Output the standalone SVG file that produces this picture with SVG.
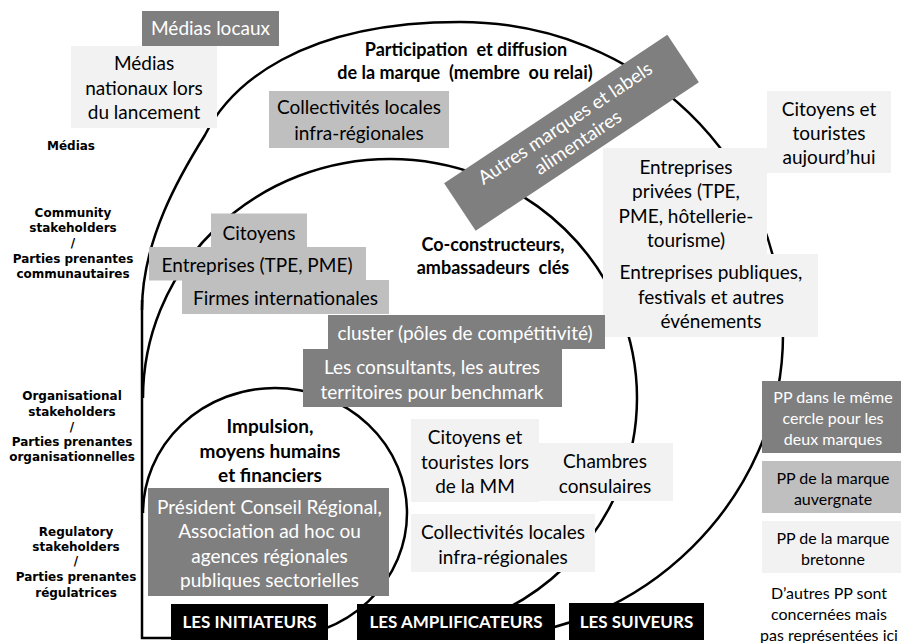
<svg xmlns="http://www.w3.org/2000/svg" width="902" height="643" viewBox="0 0 902 643">
<style>
.t{font-family:Lato,"Liberation Sans",sans-serif;font-size:19px;text-anchor:middle;fill:#000}
.w{fill:#fff}
.s16{font-size:16px}
.b{font-weight:bold}
.h{font-size:18px;white-space:pre}
.lbl{font-family:"DejaVu Sans",sans-serif;font-weight:bold;font-size:12px;text-anchor:middle;fill:#000}
.dk{fill:#7f7f7f}
.md{fill:#bfbfbf}
.lt{fill:#f2f2f2}
.bk{fill:#000}
.ln{fill:none;stroke:#000;stroke-width:2.5}
</style>
<rect width="902" height="643" fill="#fff"/>
<g id="circles">
<path class="ln" d="M142,300 L142,638 L200,638"/>
<path class="ln" d="M142,310 C142,240 180,175 205,135 C230,85 300,22 460,22 C640,22 783,160 783,335 C783,500 640,637 480,637"/>
<path class="ln" d="M143,398 A247,239 0 1 1 390,637"/>
<path class="ln" d="M143,513 A132,125 0 1 1 275,638"/>
</g>
<g id="side-labels">
<text class="lbl" x="71" y="150">Médias</text>
<text class="lbl" x="73" y="217">Community</text>
<text class="lbl" x="73" y="232">stakeholders</text>
<text class="lbl" x="73" y="247">/</text>
<text class="lbl" x="73" y="263">Parties prenantes</text>
<text class="lbl" x="73" y="278">communautaires</text>
<text class="lbl" x="72" y="400">Organisational</text>
<text class="lbl" x="72" y="416">stakeholders</text>
<text class="lbl" x="72" y="431">/</text>
<text class="lbl" x="72" y="446">Parties prenantes</text>
<text class="lbl" x="72" y="461">organisationnelles</text>
<text class="lbl" x="76" y="536">Regulatory</text>
<text class="lbl" x="76" y="551">stakeholders</text>
<text class="lbl" x="76" y="565">/</text>
<text class="lbl" x="76" y="581">Parties prenantes</text>
<text class="lbl" x="76" y="597">régulatrices</text>
</g>
<g id="titles">
<text class="t b h" x="466" y="56">Participation  et diffusion</text>
<text class="t b h" x="465" y="79">de la marque  (membre  ou relai)</text>
<text class="t b h" x="493" y="251">Co-constructeurs,</text>
<text class="t b h" x="493" y="274">ambassadeurs  clés</text>
<text class="t b" x="270" y="433">Impulsion,</text>
<text class="t b" x="270" y="458">moyens humains</text>
<text class="t b" x="270" y="482">et financiers</text>
</g>
<g id="medias-locaux">
<rect class="dk" x="142" y="11" width="137" height="35"/>
<text class="t w" x="210.5" y="35">Médias locaux</text>
</g>
<g id="medias-nationaux">
<rect class="lt" x="71" y="46" width="146" height="82"/>
<text class="t" x="144" y="69.5">Médias</text>
<text class="t" x="144" y="94.5">nationaux lors</text>
<text class="t" x="144" y="118.5">du lancement</text>
</g>
<g id="collectivites-haut">
<rect class="md" x="269" y="91" width="180" height="57"/>
<text class="t" x="359" y="113.5">Collectivités locales</text>
<text class="t" x="359" y="139.5">infra-régionales</text>
</g>
<g id="autres-marques" transform="translate(571.5,132.75) rotate(-33.6)">
<rect class="dk" x="-134" y="-28.5" width="268" height="57"/>
<text class="t w" x="0" y="-5">Autres marques et labels</text>
<text class="t w" x="0" y="18">alimentaires</text>
</g>
<g id="citoyens-aujourdhui">
<rect class="lt" x="767" y="91" width="124" height="82"/>
<text class="t" x="829" y="115.5">Citoyens et</text>
<text class="t" x="829" y="139.5">touristes</text>
<text class="t" x="829" y="163.5">aujourd’hui</text>
</g>
<g id="entreprises-privees">
<rect class="lt" x="603" y="148" width="164" height="106"/>
<text class="t" x="686" y="173.5">Entreprises</text>
<text class="t" x="686" y="198">privées (TPE,</text>
<text class="t" x="686" y="222.5">PME, hôtellerie-</text>
<text class="t" x="686" y="246.5">tourisme)</text>
</g>
<g id="entreprises-publiques">
<rect class="lt" x="603" y="254" width="215" height="83"/>
<text class="t" x="711" y="278.5">Entreprises publiques,</text>
<text class="t" x="711" y="303.5">festivals et autres</text>
<text class="t" x="711" y="327.5">événements</text>
</g>
<g id="citoyens">
<rect class="md" x="211" y="213.5" width="96" height="34"/>
<text class="t" x="259" y="239.5">Citoyens</text>
</g>
<g id="entreprises-tpe">
<rect class="md" x="149" y="247" width="217" height="33.5"/>
<text class="t" x="257" y="271.5">Entreprises (TPE, PME)</text>
</g>
<g id="firmes">
<rect class="md" x="182" y="280" width="207" height="34"/>
<text class="t" x="285.5" y="304.5">Firmes internationales</text>
</g>
<g id="cluster">
<rect class="dk" x="328" y="315" width="277" height="34"/>
<text class="t w" x="465" y="339.5">cluster (pôles de compétitivité)</text>
</g>
<g id="consultants">
<rect class="dk" x="303" y="349" width="259" height="58"/>
<text class="t w" x="432" y="373.5">Les consultants, les autres</text>
<text class="t w" x="432" y="398.5">territoires pour benchmark</text>
</g>
<g id="president">
<rect class="dk" x="148" y="488" width="241" height="108"/>
<text class="t w" x="269.5" y="513.5">Président Conseil Régional,</text>
<text class="t w" x="269.5" y="538">Association ad hoc ou</text>
<text class="t w" x="269.5" y="562.5">agences régionales</text>
<text class="t w" x="269.5" y="587">publiques sectorielles</text>
</g>
<g id="citoyens-mm">
<rect class="lt" x="411" y="419" width="128" height="83"/>
<text class="t" x="475" y="443.5">Citoyens et</text>
<text class="t" x="475" y="468.5">touristes lors</text>
<text class="t" x="475" y="492.5">de la MM</text>
</g>
<g id="chambres">
<rect class="lt" x="539" y="443" width="134" height="58"/>
<text class="t" x="605" y="467.5">Chambres</text>
<text class="t" x="605" y="492.5">consulaires</text>
</g>
<g id="collectivites-bas">
<rect class="lt" x="411" y="514" width="184" height="58"/>
<text class="t" x="503" y="538.5">Collectivités locales</text>
<text class="t" x="503" y="563.5">infra-régionales</text>
</g>
<g id="legende-commun">
<rect class="dk" x="762" y="381" width="139" height="72"/>
<text class="t w s16" x="833" y="402.5">PP dans le même</text>
<text class="t w s16" x="833" y="423.5">cercle pour les</text>
<text class="t w s16" x="833" y="444.5">deux marques</text>
</g>
<g id="legende-auvergnate">
<rect class="md" x="762" y="461" width="139" height="52"/>
<text class="t s16" x="833" y="483.5">PP de la marque</text>
<text class="t s16" x="833" y="504.5">auvergnate</text>
</g>
<g id="legende-bretonne">
<rect class="lt" x="762" y="521" width="139" height="52"/>
<text class="t s16" x="833" y="543.5">PP de la marque</text>
<text class="t s16" x="833" y="564.5">bretonne</text>
</g>
<g id="note">
<text class="t s16" x="829" y="598.5">D’autres PP sont</text>
<text class="t s16" x="829" y="619.5">concernées mais</text>
<text class="t s16" x="829" y="640.5">pas représentées ici</text>
</g>
<g id="initiateurs">
<rect class="bk" x="171" y="604" width="157" height="36"/>
<text class="t w b" style="font-size:17px" x="249.5" y="628">LES INITIATEURS</text>
</g>
<g id="amplificateurs">
<rect class="bk" x="357" y="604" width="198" height="36"/>
<text class="t w b" style="font-size:17px" x="456" y="628">LES AMPLIFICATEURS</text>
</g>
<g id="suiveurs">
<rect class="bk" x="569" y="603" width="135" height="37"/>
<text class="t w b" style="font-size:17px" x="636.5" y="628">LES SUIVEURS</text>
</g>
</svg>
